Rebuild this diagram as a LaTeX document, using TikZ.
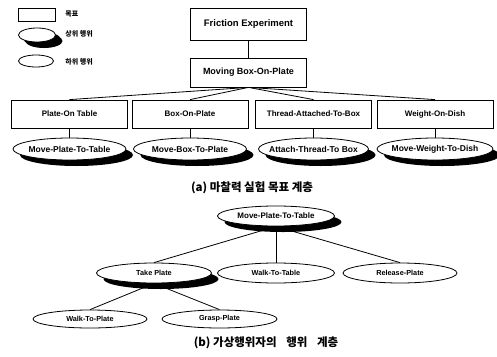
\documentclass[tikz,border=0pt]{standalone}
\usepackage{fontspec}
\setmainfont{Liberation Sans}
\newfontfamily\krfont{Noto Sans CJK KR}
\usetikzlibrary{shapes.geometric,shadows}

% zero-width label, so the text never widens an ellipse
\newcommand{\nb}[1]{\makebox[0pt]{#1}}

\begin{document}
\begin{tikzpicture}[x=1pt,y=-1pt,line width=0.8pt,
	goalbox/.style={draw,rectangle,inner sep=0pt,minimum width=116pt,minimum height=28pt,font=\bfseries\fontsize{8}{9}\selectfont},
	hiact/.style={draw,ellipse,fill=white,inner sep=0pt,minimum width=113pt,minimum height=22pt,
		drop shadow={shadow xshift=7pt,shadow yshift=-6pt,fill=black,opacity=1}},
	loact/.style={draw,ellipse,fill=white,inner sep=0pt,minimum width=115pt,minimum height=19pt,font=\bfseries\fontsize{7.3}{8}\selectfont},
	legtxt/.style={anchor=west,inner sep=0pt,font=\krfont\bfseries\fontsize{7}{8}\selectfont},
	captxt/.style={inner sep=0pt,font=\krfont\bfseries\fontsize{11.5}{14}\selectfont}]
	\useasboundingbox (0,0) rectangle (497,356);

	% legend
	\node[draw,rectangle,inner sep=0pt,minimum width=37pt,minimum height=13pt] (lgoal) at (36.5,14.5) {};
	\node[hiact,minimum width=37pt,minimum height=14pt,drop shadow={shadow xshift=5pt,shadow yshift=-4pt,fill=black,opacity=1}] (lhi) at (37,35) {};
	\node[loact,minimum width=35pt,minimum height=12pt] (llo) at (36,61) {};
	\node[legtxt] (tgoal) at (65,14) {목표};
	\node[legtxt] (thi) at (65,34) {상위 행위};
	\node[legtxt] (tlo) at (65,62) {하위 행위};

	% (a) goals of the friction experiment
	\node[goalbox,font=\bfseries\fontsize{9.5}{10}\selectfont,minimum height=32pt] (fe) at (248.5,24) {Friction Experiment};
	\node[goalbox,font=\bfseries\fontsize{9}{10}\selectfont,minimum height=29pt] (mb) at (248.5,72.5) {Moving Box-On-Plate};
	\node[goalbox] (g1) at (69.5,114) {Plate-On Table};
	\node[goalbox] (g2) at (190,114) {Box-On-Plate};
	\node[goalbox] (g3) at (313.5,114) {Thread-Attached-To-Box};
	\node[goalbox] (g4) at (435,114) {Weight-On-Dish};

	\node[hiact,font=\bfseries\fontsize{8.5}{9}\selectfont] (h1) at (69.5,149) {\nb{Move-Plate-To-Table}};
	\node[hiact,font=\bfseries\fontsize{8.5}{9}\selectfont] (h2) at (190,149) {\nb{Move-Box-To-Plate}};
	\node[hiact,font=\bfseries\fontsize{8.5}{9}\selectfont,minimum width=110pt] (h3) at (313.5,149) {\nb{Attach-Thread-To Box}};
	\node[hiact,font=\bfseries\fontsize{8.5}{9}\selectfont,minimum width=116pt] (h4) at (435,149) {\nb{Move-Weight-To-Dish}};

	\draw (fe) -- (mb);
	\draw (mb.south) -- (g1.north);
	\draw (mb.south) -- (g2.north);
	\draw (mb.south) -- (g3.north);
	\draw (mb.south) -- (g4.north);
	\draw (g1) -- (h1);
	\draw (g2) -- (h2);
	\draw (g3) -- (h3);
	\draw (g4) -- (h4);

	\node[captxt] (capa) at (252,188) {(a) 마찰력 실험 목표 계층};

	% (b) actions of the virtual agent
	\node[hiact,font=\bfseries\fontsize{8}{9}\selectfont,minimum width=117pt,minimum height=20pt] (p0) at (276,216) {\nb{Move-Plate-To-Table}};
	\node[hiact,font=\bfseries\fontsize{7.3}{8}\selectfont,minimum width=115pt,minimum height=20pt] (p1) at (154,273) {\nb{Take Plate}};
	\node[loact,minimum width=117pt,minimum height=20pt] (p2) at (276,273) {\nb{Walk-To-Table}};
	\node[loact,minimum width=114pt,minimum height=20pt] (p3) at (400,273) {\nb{Release-Plate}};
	\node[loact,minimum width=114pt,minimum height=18pt] (q1) at (90,319) {\nb{Walk-To-Plate}};
	\node[loact,minimum width=115pt,minimum height=18pt] (q2) at (219.5,319) {\nb{Grasp-Plate}};

	\draw (p0.south) -- (p1.north);
	\draw (p0.south) -- (p2.north);
	\draw (p0.south) -- (p3.north);
	\draw (p1.south) -- (q1.north);
	\draw (p1.south) -- (q2.north);

	\node[captxt] (capb) at (266,343) {(b) 가상행위자의\hspace{7pt} 행위\hspace{7pt} 계층};
\end{tikzpicture}
\end{document}
